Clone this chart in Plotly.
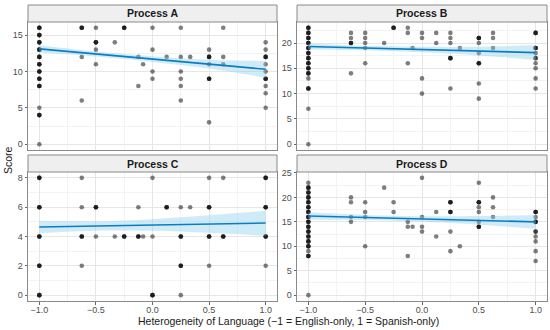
import numpy as np
import plotly.graph_objects as go

# ---------------- data ----------------
panels = ["Process A", "Process B", "Process C", "Process D"]

# points: x, y, n (n = number of overlapping observations)
A_x = [-1]*12 + [-0.625]*3 + [-0.5]*4 + [-0.333, -0.25, -0.125, -0.125, -0.083] + [0]*4 + [0.125] + [0.25]*6 + [0.333] + [0.5]*5 + [0.625]*3 + [1]*9
A_y = [16, 15, 14, 13, 12, 11, 10, 9, 8, 5, 4, 0,
       16, 12, 6,
       16, 14, 13, 11,
       14, 16, 12, 8, 11,
       16, 13, 10, 9,
       12,
       16, 12, 10, 9, 8, 6,
       12,
       13, 12, 11, 9, 3,
       16, 12, 11,
       14, 13, 12, 11, 10, 9, 8, 7, 5]
A_n = [3, 3, 3, 3, 3, 3, 3, 3, 3, 1, 3, 1,
       3, 1, 1,
       1, 3, 1, 1,
       1, 3, 1, 1, 1,
       1, 1, 1, 1,
       1,
       1, 1, 1, 1, 1, 1,
       1,
       1, 3, 1, 3, 1,
       1, 1, 1,
       1, 1, 3, 1, 1, 3, 1, 1, 1]

B_x = [-1]*14 + [-0.625]*4 + [-0.5]*5 + [-0.333, -0.25, -0.125, -0.125, -0.125, -0.083] + [0]*4 + [0.125]*2 + [0.25]*5 + [0.333] + [0.5]*6 + [0.625]*3 + [1]*8
B_y = [23, 22, 21, 20, 19, 18, 17, 16, 15, 14, 13, 11, 7, 0,
       22, 21, 20, 14,
       22, 21, 20, 19, 16,
       20, 23, 23, 22, 16, 19,
       22, 21, 13, 10,
       22, 20,
       22, 21, 20, 17, 11,
       19,
       21, 20, 18, 16, 12, 9,
       22, 21, 19,
       22, 19, 18, 17, 16, 15, 13, 11]
B_n = [3, 3, 3, 3, 3, 3, 3, 3, 3, 3, 1, 3, 1, 1,
       1, 1, 3, 1,
       1, 1, 1, 1, 1,
       1, 3, 1, 1, 1, 1,
       1, 1, 1, 1,
       1, 1,
       1, 1, 1, 3, 1,
       1,
       3, 1, 1, 3, 1, 1,
       1, 1, 1,
       3, 3, 1, 2, 1, 1, 1, 1]

C_x = [-1]*5 + [-0.625]*4 + [-0.5]*2 + [-0.333, -0.25, -0.125, -0.125, -0.083] + [0]*3 + [0.125] + [0.25]*4 + [0.333] + [0.5]*4 + [0.625]*2 + [1]*4
C_y = [8, 6, 4, 2, 0,
       8, 6, 4, 2,
       6, 4,
       4, 4, 6, 4, 4,
       8, 4, 0,
       6,
       6, 4, 2, 0,
       6,
       8, 6, 4, 2,
       8, 4,
       8, 6, 4, 2]
C_n = [3, 3, 3, 3, 3,
       1, 1, 3, 1,
       3, 1,
       1, 3, 1, 3, 1,
       1, 1, 3,
       3,
       1, 3, 3, 1,
       1,
       1, 3, 3, 1,
       1, 3,
       3, 3, 3, 1]

D_x = [-1]*17 + [-0.625]*4 + [-0.5]*4 + [-0.333, -0.25, -0.25, -0.125, -0.125, -0.125, -0.083] + [0]*4 + [0.125]*2 + [0.25]*4 + [0.333] + [0.5]*6 + [0.625]*3 + [1]*8
D_y = [23, 22, 21, 20, 19, 18, 17, 16, 15, 14, 13, 12, 11, 10, 9, 8, 0,
       20, 19, 16, 15,
       19, 17, 16, 10,
       22, 19, 17, 15, 14, 8, 14,
       24, 16, 14, 13,
       17, 12,
       19, 17, 13, 9,
       10,
       23, 19, 18, 17, 15, 14,
       20, 18, 16,
       17, 16, 15, 13, 12, 11, 9, 7]
D_n = [1, 3, 3, 3, 3, 3, 3, 3, 3, 3, 3, 3, 3, 3, 1, 3, 1,
       1, 1, 1, 1,
       1, 1, 1, 1,
       1, 1, 1, 1, 1, 1, 1,
       1, 1, 1, 1,
       1, 1,
       3, 3, 1, 1,
       1,
       1, 3, 1, 1, 1, 3,
       1, 1, 1,
       3, 1, 3, 2, 1, 1, 1, 1]

# fitted line and confidence band
fit_x = [-1, -0.5, 0, 0.5, 1]
A_fit = [13.1, 12.4, 11.7, 11.0, 10.3]
A_lo = [12.6, 12.05, 11.3, 10.4, 9.15]
A_hi = [13.6, 12.75, 12.1, 11.6, 11.45]
B_fit = [19.3, 19.0, 18.7, 18.4, 18.1]
B_lo = [18.7, 18.55, 18.15, 17.55, 16.65]
B_hi = [19.9, 19.45, 19.25, 19.25, 19.6]
C_fit = [4.65, 4.72, 4.785, 4.85, 4.92]
C_lo = [4.23, 4.40, 4.385, 4.25, 4.05]
C_hi = [5.07, 5.04, 5.185, 5.45, 5.75]
D_fit = [16.2, 15.9, 15.6, 15.3, 15.0]
D_lo = [15.45, 15.4, 15.05, 14.4, 13.6]
D_hi = [16.95, 16.4, 16.15, 16.2, 16.4]

x_ticks = [-1.0, -0.5, 0.0, 0.5, 1.0]
x_ticktext = ["\u22121.0", "\u22120.5", "0.0", "0.5", "1.0"]
y_ranges = [[-0.8, 16.8], [-1.15, 24.15], [-0.4, 8.4], [-1.2, 25.2]]
y_dticks = [5, 5, 2, 5]

x_title = "Heterogeneity of Language (\u22121 = English-only, 1 = Spanish-only)"
y_title = "Score"

# ---------------- layout geometry ----------------
W, H = 550, 330
xdom_px = [(28, 277), (297, 547), (28, 277), (297, 547)]
ydom_px = [(22, 150), (22, 150), (172, 301), (172, 301)]
strip_px = [(5, 22), (5, 22), (155, 172), (155, 172)]

pts = [(A_x, A_y, A_n), (B_x, B_y, B_n), (C_x, C_y, C_n), (D_x, D_y, D_n)]
fits = [(A_fit, A_lo, A_hi), (B_fit, B_lo, B_hi), (C_fit, C_lo, C_hi), (D_fit, D_lo, D_hi)]

FONT = "Liberation Sans, Arial, sans-serif"
fig = go.Figure()
layout = dict(width=W, height=H, margin=dict(l=0, r=0, t=0, b=0),
              paper_bgcolor="white", plot_bgcolor="white", showlegend=False,
              font=dict(family=FONT, size=9, color="#4d4d4d"))
shapes = []
annotations = []

for i in range(4):
    ax = "" if i == 0 else str(i + 1)
    xa, ya = "x" + ax, "y" + ax
    px, py, pn = pts[i]
    xs = np.repeat(np.array(px, dtype=float), pn)
    ys = np.repeat(np.array(py, dtype=float), pn)
    fig.add_trace(go.Scatter(x=xs, y=ys, mode="markers", xaxis=xa, yaxis=ya,
                             marker=dict(size=4.6, color="rgba(0,0,0,0.5)", line=dict(width=0)),
                             hoverinfo="skip"))
    f, lo, hi = fits[i]
    fig.add_trace(go.Scatter(x=fit_x, y=lo, xaxis=xa, yaxis=ya,
                             mode="lines", line=dict(width=0, shape="spline", smoothing=0.8),
                             hoverinfo="skip"))
    fig.add_trace(go.Scatter(x=fit_x, y=hi, xaxis=xa, yaxis=ya,
                             mode="lines", line=dict(width=0, shape="spline", smoothing=0.8),
                             fill="tonexty", fillcolor="rgba(135,206,235,0.4)", hoverinfo="skip"))
    fig.add_trace(go.Scatter(x=fit_x, y=f, xaxis=xa, yaxis=ya, mode="lines",
                             line=dict(color="#0a7dc2", width=1.6), hoverinfo="skip"))

    x0, x1 = xdom_px[i]
    y0, y1 = ydom_px[i]
    bottom = i >= 2
    layout["xaxis" + ax] = dict(
        domain=[x0 / W, x1 / W], range=[-1.1, 1.1], anchor=ya,
        tickvals=x_ticks, ticktext=x_ticktext, showticklabels=bottom,
        ticks="outside" if bottom else "", ticklen=2.5, tickcolor="#666", tickwidth=0.8,
        ticklabelstandoff=-2,
        showgrid=True, gridcolor="#e6e6e6", gridwidth=0.8,
        minor=dict(dtick=0.25, tick0=-1, showgrid=True, gridcolor="#f3f3f3", gridwidth=0.5, ticks=""),
        showline=True, mirror=True, linecolor="#8a8a8a", linewidth=1,
        zeroline=False, automargin=False, fixedrange=True,
        tickfont=dict(size=9, color="#4d4d4d"))
    layout["yaxis" + ax] = dict(
        domain=[1 - y1 / H, 1 - y0 / H], range=y_ranges[i], anchor=xa,
        dtick=y_dticks[i], tick0=0, ticks="outside", ticklen=2.5, tickcolor="#666", tickwidth=0.8,
        showgrid=True, gridcolor="#e6e6e6", gridwidth=0.8,
        minor=dict(dtick=y_dticks[i] / 2, tick0=0, showgrid=True, gridcolor="#f3f3f3", gridwidth=0.5, ticks=""),
        showline=True, mirror=True, linecolor="#8a8a8a", linewidth=1,
        zeroline=False, automargin=False, fixedrange=True,
        tickfont=dict(size=9, color="#4d4d4d"))
    s0, s1 = strip_px[i]
    shapes.append(dict(type="rect", xref="paper", yref="paper",
                       x0=x0 / W, x1=x1 / W, y0=1 - s1 / H, y1=1 - s0 / H,
                       fillcolor="#efefef", line=dict(color="#8a8a8a", width=1), layer="above"))
    annotations.append(dict(text="<b>" + panels[i] + "</b>", xref="paper", yref="paper",
                            x=(x0 + x1) / 2 / W, y=1 - (s0 + s1) / 2 / H,
                            xanchor="center", yanchor="middle", showarrow=False,
                            font=dict(size=10.5, color="#1a1a1a", family=FONT)))

annotations.append(dict(text=x_title, xref="paper", yref="paper", x=288 / W, y=1 - 321 / H,
                        xanchor="center", yanchor="middle", showarrow=False,
                        font=dict(size=10.5, color="#1a1a1a", family=FONT)))
annotations.append(dict(text=y_title, xref="paper", yref="paper", x=8 / W, y=1 - 160 / H,
                        xanchor="center", yanchor="middle", showarrow=False, textangle=-90,
                        font=dict(size=10.5, color="#1a1a1a", family=FONT)))
layout["shapes"] = shapes
layout["annotations"] = annotations
fig.update_layout(**layout)
fig.write_html("out.html", config={"displayModeBar": False},
               post_script="document.body.style.margin='0';document.body.style.overflow='hidden';")
